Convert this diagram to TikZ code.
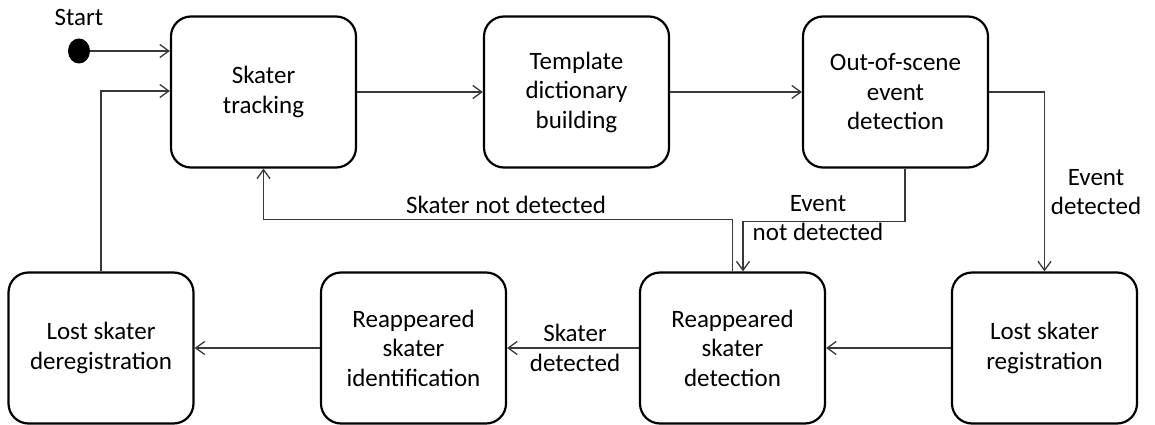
\documentclass[tikz,border=0pt]{standalone}
\usepackage{fontspec}
\setmainfont{Carlito}
\usetikzlibrary{arrows.meta,shapes.geometric}
\begin{document}
\begin{tikzpicture}[x=1pt,y=-1pt,
  state/.style={draw=black, line width=2.2pt, rounded corners=20pt,
    minimum width=185pt, minimum height=151pt, inner sep=0pt,
    align=center, font=\fontsize{25}{29.5}\selectfont},
  lbl/.style={align=center, inner sep=0pt, font=\fontsize{25}{29.5}\selectfont},
  conn/.style={draw=black!78, line width=1.3pt,
    -{Straight Barb[length=9pt,width=13pt,line width=1.3pt]}},
  initial/.style={ellipse, fill=black, minimum width=22pt, minimum height=25pt, inner sep=0pt}]
\useasboundingbox (0,0) rectangle (1155,425);

% states, top row
\node[state] (track) at (263.5,92)  {Skater\\tracking};
\node[state] (templ) at (576.5,92)  {Template\\dictionary\\building};
\node[state] (scene) at (895.5,92)  {Out-of-scene\\event\\detection};
% states, bottom row
\node[state] (dereg) at (101,348)   {Lost skater\\deregistration};
\node[state] (ident) at (413.5,348) {Reappeared\\skater\\identification};
\node[state] (det)   at (732.5,348) {Reappeared\\skater\\detection};
\node[state] (reg)   at (1044.5,348){Lost skater\\registration};

% initial pseudo-state
\node[initial] (start) at (79,51) {};
\node[lbl] (startlbl) at (79,17) {Start};

% transitions
\draw[conn] (start) -- (start -| track.west);
\draw[conn] (dereg.north) |- ([yshift=1pt]track.west);
\draw[conn] (track.east) -- (templ.west);
\draw[conn] (templ.east) -- (scene.west);
\draw[conn] (scene.east) -| (reg.north);
\draw[conn] ([xshift=9.5pt]scene.south) -- ++(0,53) -| ([xshift=10.5pt]det.north);
\draw[conn] (det.north) -- ++(0,-52) -| (track.south);
\draw[conn] (reg.west) -- (det.east);
\draw[conn] (det.west) -- (ident.east);
\draw[conn] (ident.west) -- (dereg.east);

% transition labels
\node[lbl] (l1) at (1096,192) {Event\\detected};
\node[lbl] (l2) at (818,218)  {Event\\not detected};
\node[lbl] (l3) at (506,205)  {Skater not detected};
\node[lbl] (l4) at (575,348)  {Skater\\detected};
\end{tikzpicture}
\end{document}
